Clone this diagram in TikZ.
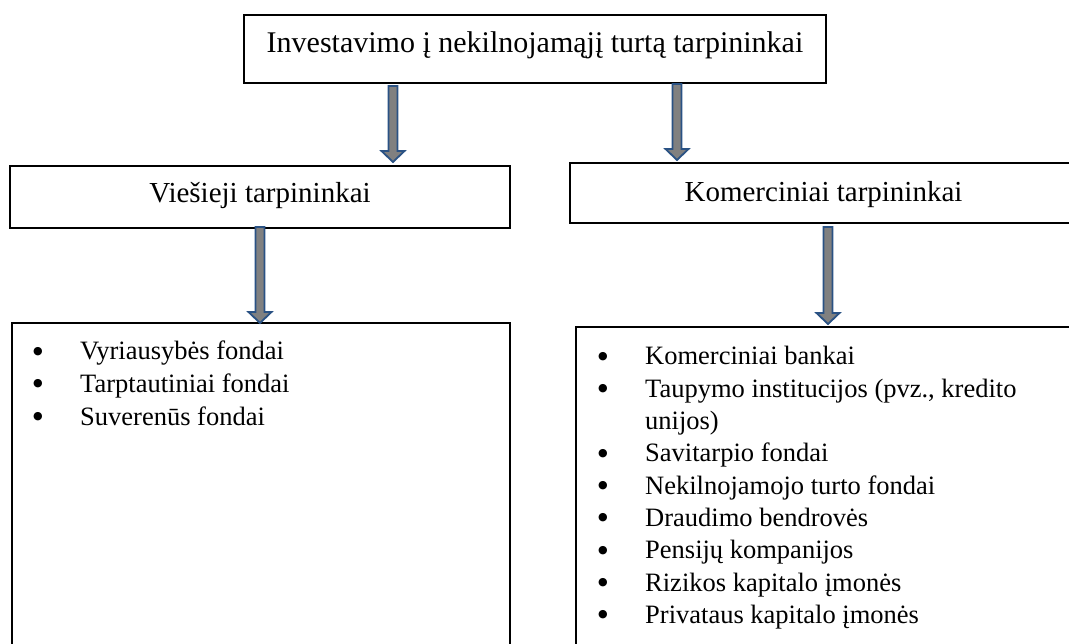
\documentclass[tikz,border=0pt]{standalone}
\usepackage{fontspec}
\setmainfont{Liberation Serif}
\newfontfamily\symfont{DejaVu Sans}
\usetikzlibrary{calc}
\definecolor{arrowblue}{RGB}{42,82,132}
\definecolor{arrowgray}{RGB}{128,128,128}
\tikzset{
  box/.style={draw=black, line width=1.2pt, fill=white, inner sep=0pt, outer sep=0pt, anchor=north west, align=center},
  toptext/.style={font=\fontsize{30}{36}\selectfont},
  midtext/.style={font=\fontsize{29}{35}\selectfont},
  itemtext/.style={font=\fontsize{26.5}{32}\selectfont, inner sep=0pt, anchor=base west},
  bul/.style={font=\symfont\fontsize{11}{12}\selectfont, inner sep=0pt, anchor=center},
  blockarrow/.style={draw=arrowblue, fill=arrowgray, line width=1.8pt, line join=miter}
}
\newcommand\blockarr[2]{%
  \draw[blockarrow] ($(#1)+(-4.5,0)$) -- ($(#1)+(4.5,0)$) -- ($(#2)+(4.5,-11)$) -- ($(#2)+(11.5,-11)$) -- (#2) -- ($(#2)+(-11.5,-11)$) -- ($(#2)+(-4.5,-11)$) -- cycle;}
\begin{document}
\begin{tikzpicture}[x=1pt, y=-1pt]
\useasboundingbox (0,0) rectangle (1069,644);
\clip (0,0) rectangle (1069,644);
% boxes
\node[box, toptext, minimum width=582pt, text height=38pt, text depth=30pt] (top) at (244,15) {Investavimo į nekilnojamąjį turtą tarpininkai};
\node[box, midtext, minimum width=500pt, text height=37pt, text depth=25pt] (vies) at (10,166) {Viešieji tarpininkai};
\node[box, midtext, minimum width=507pt, text height=39pt, text depth=21pt] (kom) at (570,163) {Komerciniai tarpininkai};
\node[box, minimum width=498pt, minimum height=340pt] (vlist) at (12,323) {};
\node[box, minimum width=501pt, minimum height=340pt] (klist) at (576,327) {};
% arrows
\coordinate (a1t) at (393,86);  \coordinate (a1b) at (393,162);
\coordinate (a2t) at (677,84);  \coordinate (a2b) at (677,160);
\coordinate (a3t) at (260,227); \coordinate (a3b) at (260,323);
\coordinate (a4t) at (828,227); \coordinate (a4b) at (828,324);
\blockarr{a1t}{a1b}
\blockarr{a2t}{a2b}
\blockarr{a3t}{a3b}
\blockarr{a4t}{a4b}
% left list
\foreach \t [count=\i] in {Vyriausybės fondai, Tarptautiniai fondai, Suverenūs fondai}{
  \node[itemtext] (vi\i) at (80,{360+32.5*(\i-1)}) {\t};
  \node[bul] (vb\i) at (38,{351.5+32.5*(\i-1)}) {●};
}
% right list
\foreach \t/\k [count=\i] in {Komerciniai bankai/0, {Taupymo institucijos (pvz., kredito}/1, Savitarpio fondai/3, Nekilnojamojo turto fondai/4, Draudimo bendrovės/5, Pensijų kompanijos/6, Rizikos kapitalo įmonės/7, Privataus kapitalo įmonės/8}{
  \node[itemtext] (ki\i) at (645,{365+32.3*\k}) {\t};
  \node[bul] (kb\i) at (603,{356.5+32.3*\k}) {●};
}
\node[itemtext] (kcont) at (645,{365+32.3*2}) {unijos)};
\end{tikzpicture}
\end{document}
